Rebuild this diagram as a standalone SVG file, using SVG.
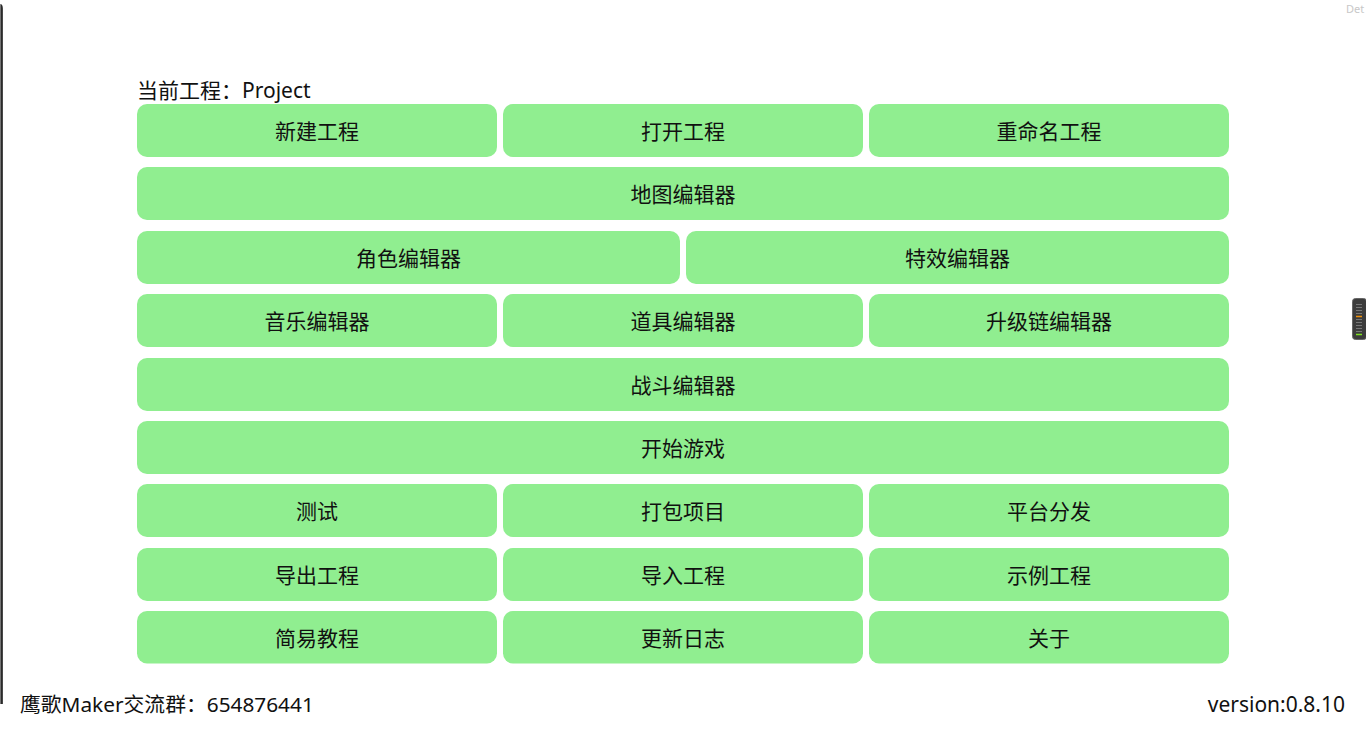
<svg xmlns="http://www.w3.org/2000/svg" width="1366" height="738" viewBox="0 0 1366 738">
<defs>
<linearGradient id="edge" x1="0" y1="0" x2="1" y2="0">
<stop offset="0" stop-color="#9a9a9a"/>
<stop offset="0.5" stop-color="#2a2a2a"/>
<stop offset="1" stop-color="#555"/>
</linearGradient>
</defs>
<style>
.btn rect{fill:#90EE90;}
.btn text{font-family:"Noto Sans CJK SC","Noto Sans",sans-serif;font-size:21px;fill:#111;text-anchor:middle;}
.lbl{font-family:"Noto Sans","Noto Sans CJK SC",sans-serif;font-size:21px;fill:#111;}
</style>
<rect x="0" y="0" width="1366" height="738" fill="#fff"/>
<path d="M0,4 Q3,4 3,9 L3,704 L0,704 Z" fill="url(#edge)"/>
<text x="1346" y="13" font-family="'Noto Sans',sans-serif" font-size="11" fill="#c8c8c8">Det</text>
<g id="scrollwidget">
<rect x="1352.5" y="298.5" width="14" height="41" rx="3" fill="#3c3c3c" stroke="#666" stroke-width="1"/>
<g stroke="#777" stroke-width="1">
<line x1="1356" y1="304.5" x2="1362" y2="304.5"/>
<line x1="1356" y1="307.5" x2="1362" y2="307.5"/>
<line x1="1356" y1="310.5" x2="1362" y2="310.5"/>
<line x1="1356" y1="313.5" x2="1362" y2="313.5"/>
<line x1="1356" y1="319.5" x2="1362" y2="319.5"/>
<line x1="1356" y1="322.5" x2="1362" y2="322.5"/>
<line x1="1356" y1="325.5" x2="1362" y2="325.5"/>
<line x1="1356" y1="328.5" x2="1362" y2="328.5"/>
<line x1="1356" y1="331.5" x2="1362" y2="331.5"/>
</g>
<line x1="1356" y1="316.5" x2="1362" y2="316.5" stroke="#f0900a" stroke-width="1.5"/>
<line x1="1356" y1="334.5" x2="1362" y2="334.5" stroke="#7de020" stroke-width="1.5"/>
</g>
<text id="title" class="lbl" x="137" y="98">当前工程：Project</text>
<g id="btn-new" class="btn"><rect x="137" y="104" width="360" height="53" rx="10"/><text x="317" y="139">新建工程</text></g>
<g id="btn-open" class="btn"><rect x="503" y="104" width="360" height="53" rx="10"/><text x="683" y="139">打开工程</text></g>
<g id="btn-rename" class="btn"><rect x="869" y="104" width="360" height="53" rx="10"/><text x="1049" y="139">重命名工程</text></g>
<g id="btn-map" class="btn"><rect x="137" y="167" width="1092" height="53" rx="10"/><text x="683" y="202">地图编辑器</text></g>
<g id="btn-role" class="btn"><rect x="137" y="231" width="543" height="53" rx="10"/><text x="408.5" y="266">角色编辑器</text></g>
<g id="btn-effect" class="btn"><rect x="686" y="231" width="543" height="53" rx="10"/><text x="957.5" y="266">特效编辑器</text></g>
<g id="btn-music" class="btn"><rect x="137" y="294" width="360" height="53" rx="10"/><text x="317" y="329">音乐编辑器</text></g>
<g id="btn-item" class="btn"><rect x="503" y="294" width="360" height="53" rx="10"/><text x="683" y="329">道具编辑器</text></g>
<g id="btn-upgrade" class="btn"><rect x="869" y="294" width="360" height="53" rx="10"/><text x="1049" y="329">升级链编辑器</text></g>
<g id="btn-battle" class="btn"><rect x="137" y="358" width="1092" height="53" rx="10"/><text x="683" y="393">战斗编辑器</text></g>
<g id="btn-start" class="btn"><rect x="137" y="421" width="1092" height="53" rx="10"/><text x="683" y="456">开始游戏</text></g>
<g id="btn-test" class="btn"><rect x="137" y="484" width="360" height="53" rx="10"/><text x="317" y="519">测试</text></g>
<g id="btn-pack" class="btn"><rect x="503" y="484" width="360" height="53" rx="10"/><text x="683" y="519">打包项目</text></g>
<g id="btn-publish" class="btn"><rect x="869" y="484" width="360" height="53" rx="10"/><text x="1049" y="519">平台分发</text></g>
<g id="btn-export" class="btn"><rect x="137" y="548" width="360" height="53" rx="10"/><text x="317" y="583">导出工程</text></g>
<g id="btn-import" class="btn"><rect x="503" y="548" width="360" height="53" rx="10"/><text x="683" y="583">导入工程</text></g>
<g id="btn-sample" class="btn"><rect x="869" y="548" width="360" height="53" rx="10"/><text x="1049" y="583">示例工程</text></g>
<g id="btn-tutorial" class="btn"><rect x="137" y="611" width="360" height="52.5" rx="10"/><text x="317" y="646">简易教程</text></g>
<g id="btn-changelog" class="btn"><rect x="503" y="611" width="360" height="52.5" rx="10"/><text x="683" y="646">更新日志</text></g>
<g id="btn-about" class="btn"><rect x="869" y="611" width="360" height="52.5" rx="10"/><text x="1049" y="646">关于</text></g>
<text id="group" class="lbl" x="20" y="712" style="font-size:20.8px">鹰歌Maker交流群：654876441</text>
<text id="version" class="lbl" x="1345" y="712" text-anchor="end">version:0.8.10</text>
</svg>
